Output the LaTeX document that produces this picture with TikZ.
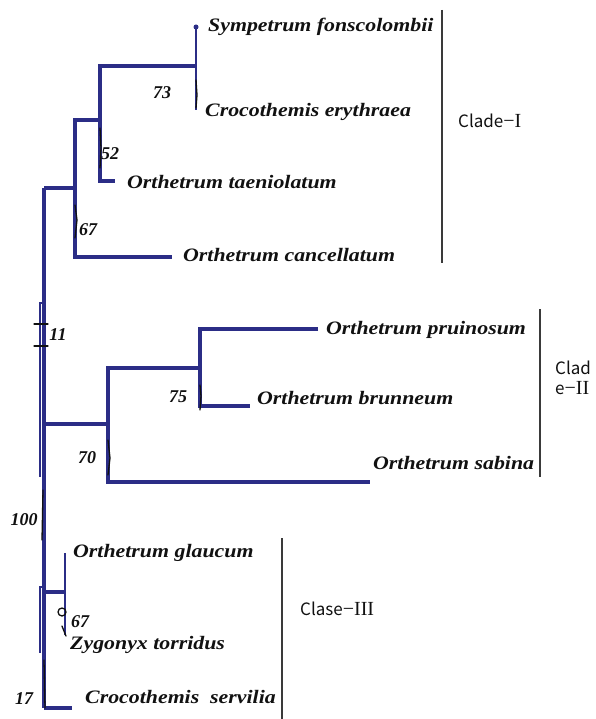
\documentclass[tikz,border=0pt]{standalone}
\usepackage{fontspec}
\setmainfont{Liberation Serif}
\newfontfamily\taxfont[FakeStretch=1.15]{Liberation Serif}
\newfontfamily\cladefont{Noto Sans CJK JP}
\newfontfamily\numfont{Liberation Serif}
\usetikzlibrary{positioning,calc}
\definecolor{tree}{HTML}{2B2D86}
\definecolor{ink}{HTML}{111111}
\definecolor{bar}{HTML}{3A3A3A}
\newcommand{\rnum}[1]{{\numfont\fontsize{20}{20}\selectfont −#1}}
\tikzset{
  branch/.style={draw=tree,line width=3.8pt},
  twig/.style={draw=tree,line width=2.6pt},
  pen/.style={draw=ink,line width=1.3pt,line cap=round},
  taxon/.style={font=\taxfont\bfseries\itshape\fontsize{19}{22}\selectfont,text=ink,anchor=west,inner sep=0pt},
  boot/.style={font=\bfseries\itshape\fontsize{18}{20}\selectfont,text=ink,inner sep=0pt},
  cladebar/.style={draw=bar,line width=1.6pt},
  clade/.style={font=\cladefont\fontsize{17}{20}\selectfont,text=ink,anchor=west,align=left,inner sep=0pt},
}
\begin{document}
\begin{tikzpicture}[x=1pt,y=-1pt]
  \useasboundingbox[fill=white] (0,0) rectangle (595,719);
  % internal nodes and tips
  \coordinate (r0) at (44,188); \coordinate (r1) at (44,708);
  \coordinate (k1) at (75,188); \coordinate (k2) at (100,120);
  \coordinate (k3) at (196,66);
  \coordinate (t1) at (196,27); \coordinate (t2) at (196,110);
  \coordinate (t3) at (115,181); \coordinate (t4) at (172,257);
  \coordinate (k4) at (44,424); \coordinate (k5) at (108,424);
  \coordinate (k7) at (200,368);
  \coordinate (t5) at (318,329); \coordinate (t6) at (250,406);
  \coordinate (t7) at (370,482);
  \coordinate (k8) at (44,592); \coordinate (k9) at (65,592);
  \coordinate (t8) at (65,553); \coordinate (t9) at (65,635);
  \coordinate (t10) at (72,708);
  \coordinate (br1) at (40,303); \coordinate (br2) at (40,477);
  \coordinate (br3) at (40,587); \coordinate (br4) at (40,653);

  % branches
  \draw[branch] (r0) -- (r1);
  \draw[branch] (r0) -- (k1);
  \draw[branch] (k2) -| (k1) |- (t4);
  \draw[branch] (k3) -| (k2) |- (t3);
  \draw[twig] (t1) -- (t2);
  \fill[tree] (t1) circle (2.5pt);
  \draw[branch] (k4) -- (k5);
  \draw[branch] (k7) -| (k5) |- (t7);
  \draw[branch] (t5) -| (k7) |- (t6);
  \draw[branch] (k8) -- (k9);
  \draw[twig] (t8) -- (t9);
  \draw[branch] (r1) -- (t10);
  \draw[twig] (r0 |- br1) -- (br1) -- (br2);
  \draw[twig] (r0 |- br3) -- (br3) -- (br4);

  % pen marks
  \draw[pen] (196,80) -- (197,95) -- (196,108);
  \draw[pen] (100,128) -- (101,148) -- (100,168);
  \draw[pen] (75,205) -- (77,220) -- (75,238);
  \draw[pen] (34,324) -- (48,324);
  \draw[pen] (34,346) -- (48,346);
  \draw[pen] (200,385) -- (201,396) -- (200,410);
  \draw[pen] (108,440) -- (110,458) -- (108,475);
  \draw[pen] (43,490) -- (42,540);
  \draw[pen] (62,612) circle (4pt);
  \draw[pen] (62,626) -- (66,636);
  \draw[pen] (44,660) -- (45,708);

  % taxa
  \node[taxon] (sfon) at (208,27) {Sympetrum fonscolombii};
  \node[taxon] (cery) at (205,112) {Crocothemis erythraea};
  \node[taxon] (otae) at (127,182) {Orthetrum taeniolatum};
  \node[taxon] (ocan) at (183,255) {Orthetrum cancellatum};
  \node[taxon] (opru) at (326,330) {Orthetrum pruinosum};
  \node[taxon] (obru) at (257,398) {Orthetrum brunneum};
  \node[taxon] (osab) at (373,463) {Orthetrum sabina};
  \node[taxon] (ogla) at (73,553) {Orthetrum glaucum};
  \node[taxon] (ztor) at (70,645) {Zygonyx torridus};
  \node[taxon] (cser) at (85,697) {Crocothemis\ \ servilia};

  % bootstrap values
  \node[boot] at (162,93) {73};
  \node[boot] at (110,154) {52};
  \node[boot] at (88,230) {67};
  \node[boot] at (58,335) {11};
  \node[boot] at (178,397) {75};
  \node[boot] at (87,458) {70};
  \node[boot] at (24,520) {100};
  \node[boot] at (80,622) {67};
  \node[boot] at (24,699) {17};

  % clades
  \draw[cladebar] (442,10) -- (442,263);
  \node[clade] (c1) at (458,121) {Clade\rnum{I}};
  \draw[cladebar] (540,309) -- (540,477);
  \node[clade] (c2) at (555,378) {Clad\\e\rnum{II}};
  \draw[cladebar] (282,538) -- (282,719);
  \node[clade] (c3) at (300,609) {Clase\rnum{III}};
\end{tikzpicture}
\end{document}
